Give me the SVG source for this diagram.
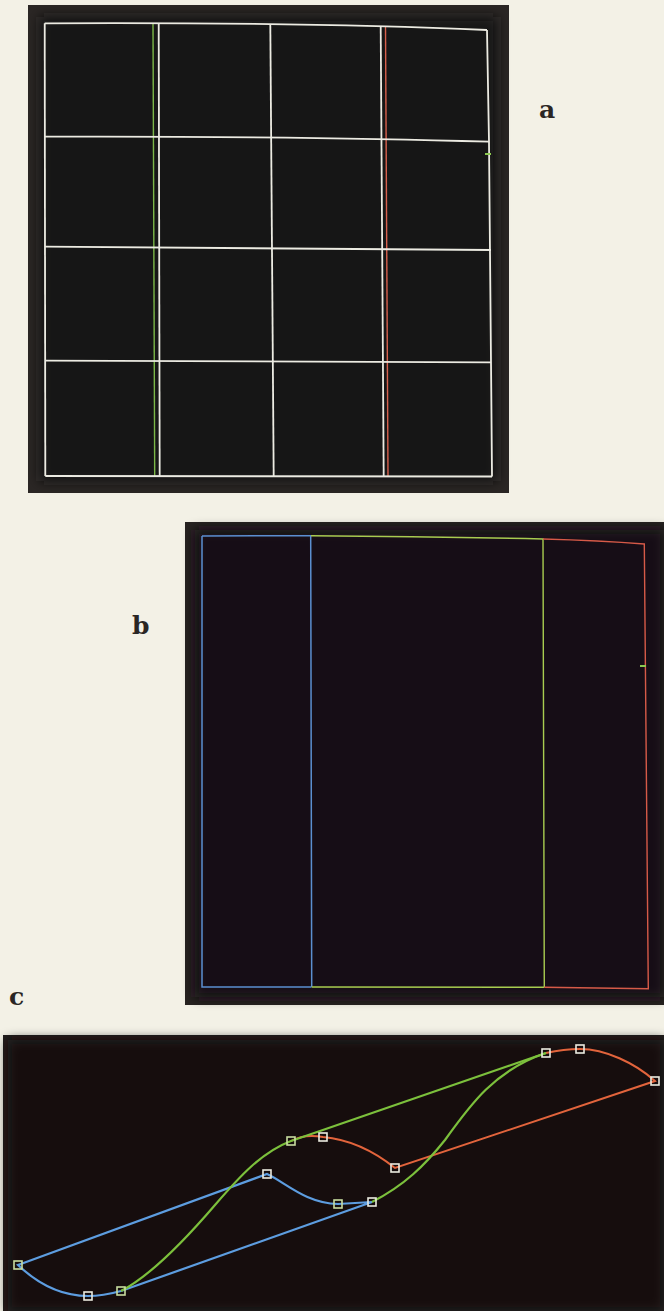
<svg xmlns="http://www.w3.org/2000/svg" width="664" height="1311" viewBox="0 0 664 1311">
<defs>
<filter id="soft" x="-5%" y="-5%" width="110%" height="110%"><feGaussianBlur stdDeviation="6"/></filter>
<style>
.lbl{font-family:"DejaVu Serif","Liberation Serif",serif;font-weight:bold;font-size:25px;fill:#2a2624}
.w{fill:none;stroke:#ecebe2;stroke-width:1.8}
.g{fill:none;stroke:#7cb848;stroke-width:1.4}
.r{fill:none;stroke:#d8604c;stroke-width:1.4}
.bb{fill:none;stroke:#5b8fd0;stroke-width:1.5}
.bg{fill:none;stroke:#a8cc50;stroke-width:1.4}
.br{fill:none;stroke:#d65a48;stroke-width:1.4}
.tick{fill:none;stroke:#8cc850;stroke-width:2}
.cb{fill:none;stroke:#5d9de0;stroke-width:2.2}
.cg{fill:none;stroke:#7cc03c;stroke-width:2.2}
.cr{fill:none;stroke:#e2643c;stroke-width:2}
.sq{fill:none;stroke:#ecece0;stroke-width:1.6}
.sqg{fill:none;stroke:#c8dca0;stroke-width:1.6}
</style>
</defs>
<rect x="0" y="0" width="664" height="1311" fill="#f3f1e6"/>

<g id="panel-a">
<rect x="28" y="5" width="481" height="488" fill="#2a2624"/>
<rect x="40" y="17" width="457" height="464" fill="#161213" filter="url(#soft)"/>
<path class="g" d="M153,23 L154.7,476"/>
<path class="r" d="M385.5,27 L388,476"/>
<path class="w" d="M44.7,23.3 Q300,22 487,30"/>
<path class="w" d="M45,136.7 Q300,136 489,141.7"/>
<path class="w" d="M45,246.7 L491,250"/>
<path class="w" d="M45,360.7 L491,362.3"/>
<path class="w" d="M45.3,476 L492,476.5"/>
<path class="w" d="M44.7,23.3 L45.3,476"/>
<path class="w" d="M158.7,23.3 L159.7,476"/>
<path class="w" d="M270.3,24 L273.7,476"/>
<path class="w" d="M380.7,26.7 L383.7,476"/>
<path class="w" d="M487,30 L489,141.7 L491,362 L492,476.5"/>
<path class="tick" d="M485,154 L491,154"/>
</g>

<g id="panel-b">
<rect x="185" y="522" width="479" height="483" fill="#262220"/>
<rect x="195" y="530" width="469" height="467" fill="#141112" filter="url(#soft)"/>
<path class="bb" d="M202,536 L311,535.7 M202,536 L202,987 L311.5,987 M310.7,535.7 L311.7,987"/>
<path class="bg" d="M311,535.7 Q430,536.5 543,539 L544.3,987.3 M311.7,987 L544.3,987.3"/>
<path class="br" d="M543,539 Q600,540.5 644.3,544 L648.3,988.7 L544.3,987.3"/>
<path class="tick" d="M640,666 L646,666"/>
</g>

<g id="panel-c">
<rect x="3" y="1035" width="661" height="276" fill="#221e1d"/>
<rect x="8" y="1040" width="656" height="271" fill="#131011" filter="url(#soft)"/>
</g>

<g id="connectors">
<path class="cb" d="M18,1265 L267,1174 C285,1182 305,1203 338,1204 L372,1202 L121,1291 C110,1294 98,1296 88,1296 C60,1296 38,1284 18,1265 Z"/>
<path class="cr" d="M291,1141 C300,1136 312,1135 323,1137 C345,1139 370,1148 395,1168 L655,1081 C635,1063 605,1049 580,1049 C565,1049 555,1051 546,1053"/>
<path class="cg" d="M121,1291 C150,1276 185,1240 215,1205 C240,1176 262,1152 291,1141 L546,1053"/>
<path class="cg" d="M372,1202 C405,1185 425,1165 445,1140 C470,1105 495,1070 546,1053"/>
</g>

<g id="control-points">
<rect class="sqg" x="14" y="1261" width="8" height="8"/>
<rect class="sq" x="84" y="1292" width="8" height="8"/>
<rect class="sqg" x="117" y="1287" width="8" height="8"/>
<rect class="sq" x="263" y="1170" width="8" height="8"/>
<rect class="sqg" x="287" y="1137" width="8" height="8"/>
<rect class="sq" x="319" y="1133" width="8" height="8"/>
<rect class="sq" x="391" y="1164" width="8" height="8"/>
<rect class="sqg" x="334" y="1200" width="8" height="8"/>
<rect class="sq" x="368" y="1198" width="8" height="8"/>
<rect class="sq" x="542" y="1049" width="8" height="8"/>
<rect class="sq" x="576" y="1045" width="8" height="8"/>
<rect class="sq" x="651" y="1077" width="8" height="8"/>
</g>

<g id="labels">
<text class="lbl" x="539" y="118">a</text>
<text class="lbl" x="132" y="634">b</text>
<text class="lbl" x="9" y="1005">c</text>
</g>
</svg>
